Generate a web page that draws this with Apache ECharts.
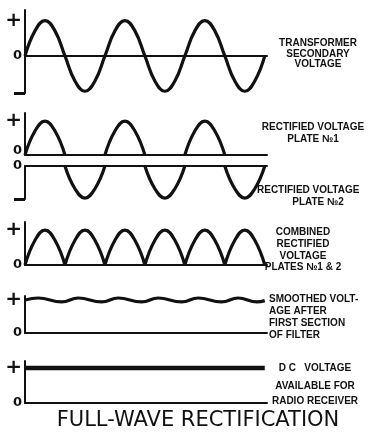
<!DOCTYPE html>
<html><head><meta charset="utf-8">
<script src="https://cdn.jsdelivr.net/npm/echarts@6/dist/echarts.min.js"></script>
<style>html,body{margin:0;padding:0;background:#fff}#c{width:374px;height:433px}</style>
</head><body><div id="c"></div>
<script>
// phase (degrees) of the sampled points, shared by the waveforms
const phase = [0,45,90,135,180,225,270,315,360,405,450,495,540,585,630,675,720,765,810,855,900,945,990,1035,1080];
const transformerV = [0,0.71,1,0.71,0,-0.71,-1,-0.71,0,0.71,1,0.71,0,-0.71,-1,-0.71,0,0.71,1,0.71,0,-0.71,-1,-0.71,0];
const plate1V = [0,0.71,1,0.71,0,null,null,null,0,0.71,1,0.71,0,null,null,null,0,0.71,1,0.71,0,null,null,null,null];
const plate2V = [null,null,null,null,0,-0.71,-1,-0.71,0,null,null,null,0,-0.71,-1,-0.71,0,null,null,null,0,-0.71,-1,-0.71,0];
const combinedA = [0,0.71,1,0.71,0,null,null,null,0,0.71,1,0.71,0,null,null,null,0,0.71,1,0.71,0,null,null,null,null];
const combinedB = [null,null,null,null,0,0.71,1,0.71,0,null,null,null,0,0.71,1,0.71,0,null,null,null,0,0.71,1,0.71,0];
const rippleX = [0,60,165,240,345,420,525,600,705,780,885,960,1045,1080];
const rippleV = [1.0,1.06,0.94,1.06,0.94,1.06,0.94,1.06,0.94,1.06,0.94,1.06,0.94,0.98];
const dcX = [0,1080];
const dcV = [1,1];

const text1 = ['TRANSFORMER','SECONDARY','VOLTAGE'];
const text2a = ['RECTIFIED VOLTAGE','PLATE №1'];
const text2b = ['RECTIFIED VOLTAGE','PLATE №2'];
const text3 = ['COMBINED','RECTIFIED','VOLTAGE','PLATES №1 & 2'];
const text4 = ['SMOOTHED VOLT-','AGE AFTER','FIRST SECTION','OF FILTER'];
const text5 = ['D C   VOLTAGE','AVAILABLE FOR','RADIO RECEIVER'];
const titleText = 'FULL-WAVE RECTIFICATION';

const INK = '#111';
const pairs = (xs, vs) => xs.map((x, i) => [x, vs[i] === null ? '-' : vs[i]]);

const panels = [
  {top:10, height:83, min:-1.05, max:1.3, labels:[1,0], minus:true, zeroAlign:'middle',
   series:[pairs(phase, transformerV)]},
  {top:113, height:42, min:0, max:1.24, labels:[1,0], zeroAlign:'bottom',
   series:[pairs(phase, plate1V)]},
  {top:166, height:33, min:-1.03, max:0, labels:[0], minus:true, zeroAlign:'middle',
   series:[pairs(phase, plate2V)]},
  {top:222, height:43, min:0, max:1.23, labels:[1,0], zeroAlign:'middle',
   series:[pairs(phase, combinedA), pairs(phase, combinedB)]},
  {top:296, height:37, min:0, max:1.12, labels:[1,0], zeroAlign:'middle',
   series:[pairs(rippleX, rippleV)]},
  {top:361, height:42, min:0, max:1.2, labels:[1,0], zeroAlign:'middle', dc:true,
   series:[pairs(dcX, dcV)]}
];

const grid = [], xAxis = [], yAxis = [], series = [];
panels.forEach((p, i) => {
  grid.push({left:25, width:242, top:p.top, height:p.height});
  xAxis.push({type:'value', gridIndex:i, min:0, max:1090,
    axisLine:{show:true, onZero:true, lineStyle:{color:INK, width:2}},
    axisTick:{show:false}, axisLabel:{show:false}, splitLine:{show:false}});
  yAxis.push({type:'value', gridIndex:i, min:p.min, max:p.max,
    axisLine:{show:true, lineStyle:{color:INK, width:2}},
    axisTick:{show:!!p.minus, customValues:p.minus ? [p.min] : [], length:11, lineStyle:{color:INK, width:3}},
    axisLabel:{show:true, customValues:p.labels, margin:3, color:INK,
      verticalAlign:'middle',
      formatter:v => v === 0 ? '{z|0}' : '{p|+}',
      rich:{
        p:{fontFamily:'DejaVu Sans', fontSize:20, fontWeight:'bold', color:INK},
        z:{fontFamily:'DejaVu Sans', fontSize:13, fontWeight:'bold', color:INK,
           padding: p.zeroAlign === 'bottom' ? [0,0,8,0] : [0,0,0,0]}
      }},
    splitLine:{show:false}});
  p.series.forEach(d => {
    series.push({type:'line', xAxisIndex:i, yAxisIndex:i, data:d,
      smooth: p.dc ? false : 0.45, showSymbol:false, connectNulls:false,
      lineStyle:{color:INK, width: p.dc ? 4.5 : 3.2}, silent:true});
  });
});

const graphic = [];
const F = 'bold 10px "Liberation Sans", Arial, sans-serif';
function addLines(lines, x, ys, align) {
  lines.forEach((t, k) => graphic.push({type:'text', x:x, y:ys[k],
    style:{text:t, font:F, fill:INK, textAlign:align, textVerticalAlign:'middle'}}));
}
addLines(text1, 318, [43,54,64.5], 'center');
addLines(text2a, 313, [127,139], 'center');
addLines([text2b[0]], 257, [190], 'left');
addLines([text2b[1]], 318, [202], 'center');
addLines(text3, 303, [232,244,256,267], 'center');
addLines(text4, 269, [299,311,323,335], 'left');
addLines(text5, 315, [368,386,401], 'center');
graphic.push({type:'text', x:198, y:421, style:{text:titleText,
  font:'normal 21px "DejaVu Sans", sans-serif', fill:INK, textAlign:'center', textVerticalAlign:'middle'}});

const chart = echarts.init(document.getElementById('c'), null, {renderer:'canvas'});
chart.setOption({animation:false, backgroundColor:'#fff', grid, xAxis, yAxis, series, graphic});
</script></body></html>
